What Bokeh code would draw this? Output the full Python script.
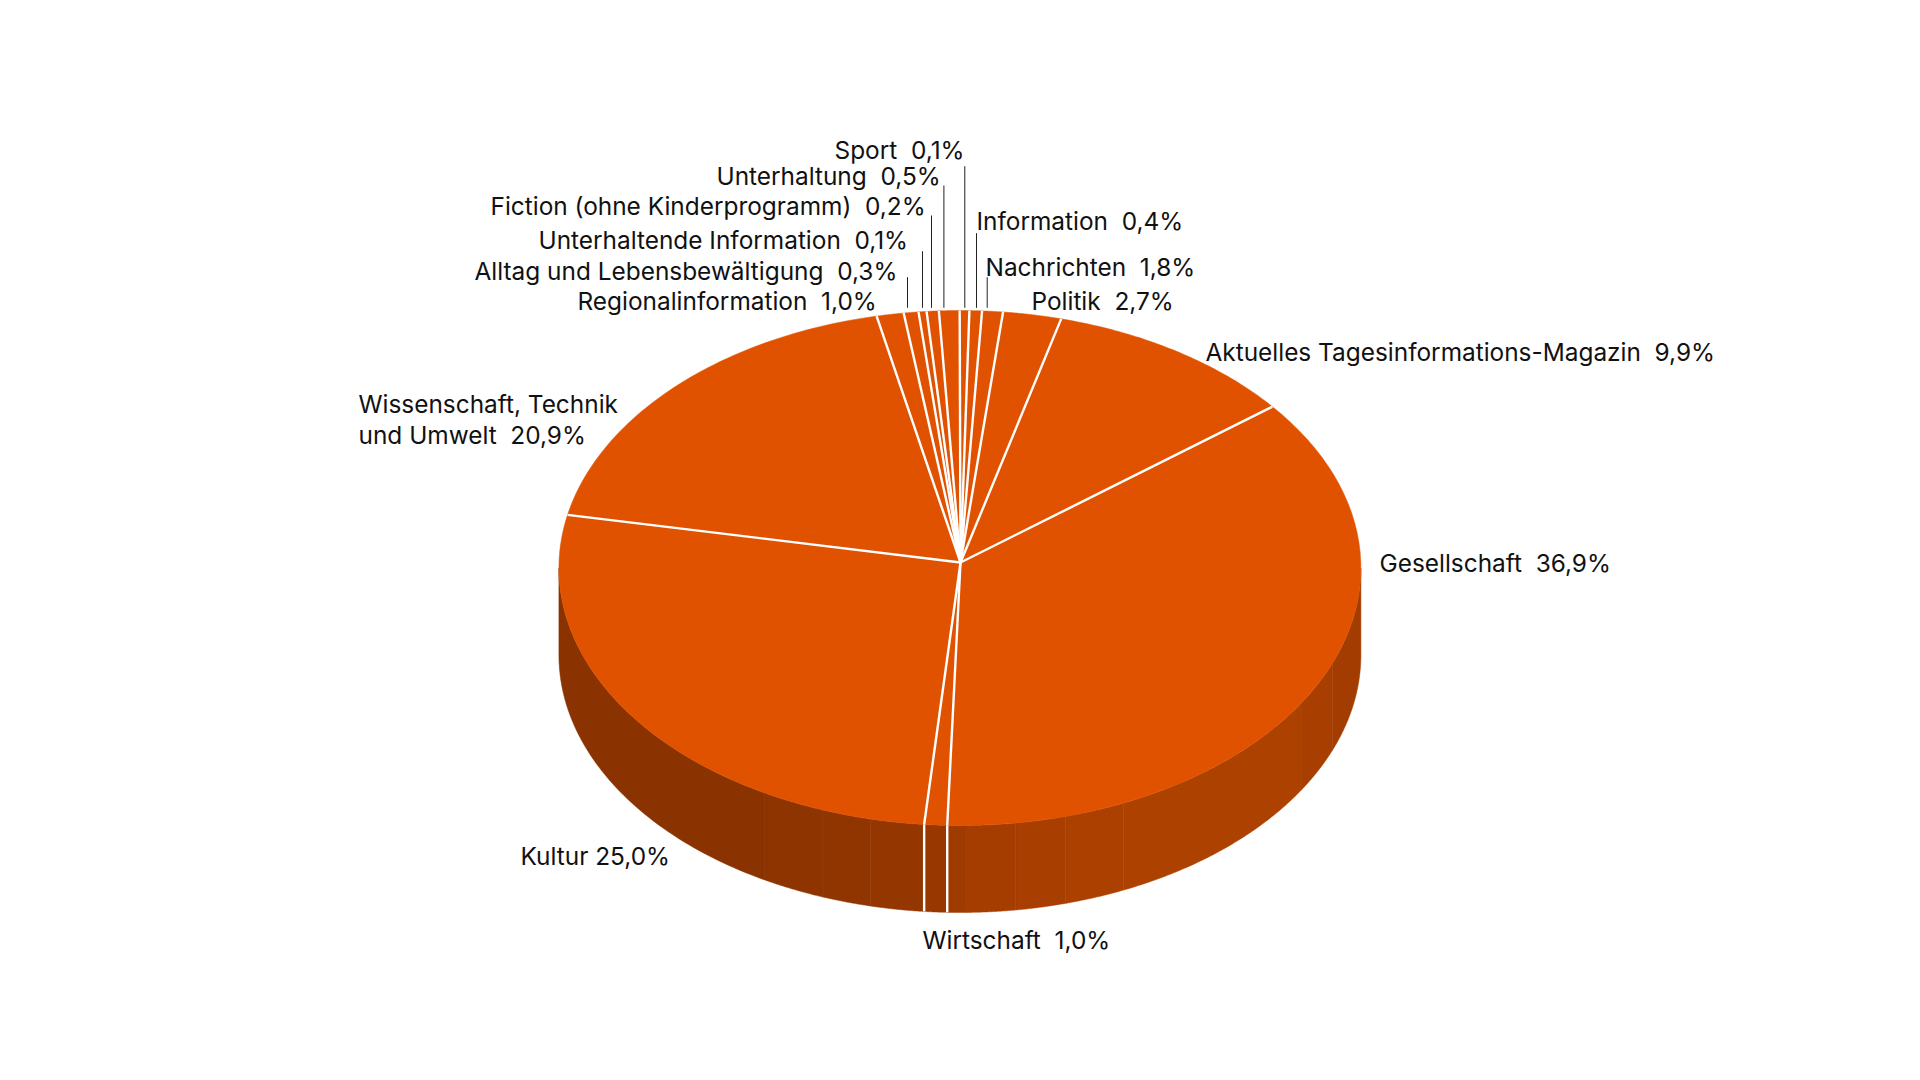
import numpy as np
from bokeh.plotting import figure
from bokeh.models import ColumnDataSource
from bokeh.core.properties import value
from bokeh.embed import file_html
from bokeh.resources import INLINE

SEP = " \u00a0"
# Printed labels, clockwise from the top of the pie
names = ["Sport", "Information", "Nachrichten", "Politik",
         "Aktuelles Tagesinformations-Magazin", "Gesellschaft",
         "Wirtschaft", "Kultur", "Wissenschaft, Technik\nund Umwelt",
         "Regionalinformation", "Alltag und Lebensbewältigung",
         "Unterhaltende Information", "Fiction (ohne Kinderprogramm)",
         "Unterhaltung"]
printed = ["0,1%", "0,4%", "1,8%", "2,7%", "9,9%", "36,9%", "1,0%", "25,0%", "20,9%",
           "1,0%", "0,3%", "0,1%", "0,2%", "0,5%"]
# Slice widths as drawn in the picture (percent of the circle)
drawn_shares = [0.386, 0.503, 0.836, 2.347, 10.16, 36.28, 0.917, 26.89, 18.36,
                1.089, 0.594, 0.322, 0.489, 0.827]
start_angle = -0.03

# Side-wall shading: facet edges (deg clockwise from top) and colours
facet_edges = [90, 111.7, 121.7, 155.9, 164.7, 172, 179, 181.8, 185.1, 192.9, 200.1, 209.1, 270]
facet_colors = ["#a33c00", "#a83e00", "#ad4100", "#ab4000", "#a83e00", "#a53d00",
                "#a03b00", "#983800", "#943600", "#903500", "#8d3400", "#8a3300"]

# Layout (page pixels)
W, H = 1904, 1064
CX, CY, RX, RY = 959.4, 567.5, 401.0, 257.5
APEX = (960.0, 562.0)
DEPTH = 87.0
TOP = "#e05200"

label_x = [834, 976, 985, 1031, 1205, 1379, 922, 520, 358, 577, 474, 538, 490, 716]
label_y = [149, 220, 266, 300, 351, 562, 939, 855, 419, 300, 270, 239, 205, 175]
leader_x = [964.3, 976, 986.7, 907, 922, 931, 943.4]
leader_top = [165.7, 232.7, 276.7, 276.7, 250.7, 215, 185]
leader_bottom = 307.3


def rim(a0, a1, n=60):
    t = np.radians(np.linspace(a0, a1, n))
    return CX + RX * np.sin(t), CY - RY * np.cos(t)


p = figure(width=W, height=H, x_range=(0, W), y_range=(H, 0),
           output_backend="svg", toolbar_location=None, min_border=0,
           outline_line_color=None, background_fill_color="white")
p.axis.visible = False
p.grid.visible = False

# side wall
sx, sy = [], []
for a0, a1 in zip(facet_edges[:-1], facet_edges[1:]):
    x, y = rim(a0, a1)
    sx.append(list(x) + list(x[::-1]))
    sy.append(list(y) + list((y + DEPTH)[::-1]))
p.patches(sx, sy, fill_color=facet_colors, line_color=facet_colors, line_width=0.5)

# top slices
edges = start_angle + np.concatenate([[0], np.cumsum(drawn_shares)]) * 3.6
tx, ty = [], []
for a0, a1 in zip(edges[:-1], edges[1:]):
    x, y = rim(a0, a1)
    tx.append([APEX[0]] + list(x))
    ty.append([APEX[1]] + list(y))
p.patches(tx, ty, fill_color=TOP, line_color=TOP, line_width=0.5)

# white separators
lx, ly = [], []
for a in edges[:-1]:
    x, y = rim(a, a, 1)
    lx.append([APEX[0], x[0]])
    ly.append([APEX[1], y[0]])
p.multi_line(lx, ly, line_color="white", line_width=2.4)

# separators continuing down the wall for the front slice
front = [edges[6], edges[7]]
wx, wy = [], []
for a in front:
    x, y = rim(a, a, 1)
    wx.append([x[0], x[0]])
    wy.append([y[0], y[0] + DEPTH])
p.multi_line(wx, wy, line_color="white", line_width=2.4)

# leaders
p.segment(leader_x, leader_top, leader_x, [leader_bottom] * len(leader_x),
          line_color="#222222", line_width=1)

# labels
labels = [n + (" " if n == "Kultur" else SEP) + v for n, v in zip(names, printed)]
src = ColumnDataSource(dict(x=label_x, y=label_y, t=labels))
p.text("x", "y", text="t", source=src, text_font=value("Inter"), text_font_size="24.4px",
       text_color="#111111", text_align="left", text_baseline="middle", text_line_height=1.03)

open("out.html", "w").write(file_html(p, INLINE))
